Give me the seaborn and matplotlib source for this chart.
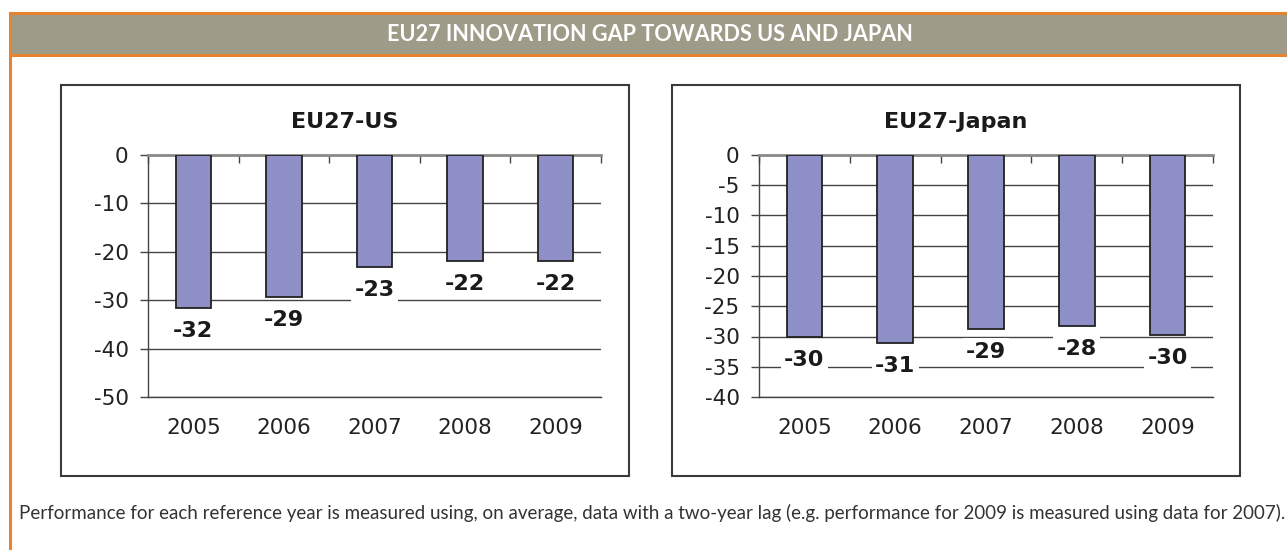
import matplotlib
matplotlib.use("Agg")
import matplotlib.pyplot as plt
from matplotlib.patches import Rectangle
from matplotlib.ticker import FixedLocator
import seaborn as sns

sns.set_style("white")
plt.rcParams["font.family"] = ["DejaVu Sans"]
plt.rcParams["axes.unicode_minus"] = False

# data
years = ["2005", "2006", "2007", "2008", "2009"]
us_gap = [-31.6, -29.4, -23.1, -21.9, -21.9]
japan_gap = [-30.0, -31.1, -28.7, -28.3, -29.7]

header = "EU27 INNOVATION GAP TOWARDS US AND JAPAN"
footnote = ("Performance for each reference year is measured using, on average, data with a "
            "two-year lag (e.g. performance for 2009 is measured using data for 2007).")

W, H = 1287, 550
bar_color = "#8D8FC6"
orange = "#E8822F"

fig = plt.figure(figsize=(W / 100, H / 100), dpi=100)


def px_rect(x0, y0, x1, y1, **kw):
    # rectangle given in pixel coords (top-left origin)
    r = Rectangle((x0 / W, 1 - y1 / H), (x1 - x0) / W, (y1 - y0) / H,
                  transform=fig.transFigure, **kw)
    fig.add_artist(r)


# header band and orange frame
px_rect(12, 15, W, 54, fc="#9E9B89", ec="none")
px_rect(9, 12, W, 15, fc=orange, ec="none")
px_rect(9, 54, W, 57, fc=orange, ec="none")
px_rect(9, 12, 12, H, fc=orange, ec="none")

# chart boxes
px_rect(61, 85, 629, 476, fill=False, ec="#3a3a3a", lw=1.5)
px_rect(672, 85, 1240, 476, fill=False, ec="#3a3a3a", lw=1.5)


def draw_chart(ax, values, ymin, step):
    sns.barplot(x=years, y=values, color=bar_color, saturation=1, width=0.39,
                edgecolor="#222222", linewidth=1.3, ax=ax, zorder=3)
    ax.set_xlim(-0.5, 4.5)
    ax.set_ylim(ymin, 0)
    ax.set_yticks(list(range(ymin, 1, step)))
    ax.yaxis.grid(True, color="#444444", linewidth=1)
    ax.set_axisbelow(True)
    ax.set_xlabel("")
    ax.set_ylabel("")
    for side in ["left", "bottom"]:
        ax.spines[side].set_visible(True)
        ax.spines[side].set_color("#444444")
        ax.spines[side].set_linewidth(1)
    ax.spines["right"].set_visible(False)
    ax.spines["top"].set_visible(True)
    ax.spines["top"].set_color("#8a8a8a")
    ax.spines["top"].set_linewidth(2)
    ax.tick_params(axis="y", which="major", left=True, length=6, width=1, color="#444444",
                   direction="out", labelsize=15.5, labelcolor="#222222", pad=8)
    ax.tick_params(axis="x", which="major", length=0, labelsize=15.5, labelcolor="#222222", pad=15)
    ax.xaxis.set_minor_locator(FixedLocator([i - 0.5 for i in range(6)]))
    ax.tick_params(axis="x", which="minor", top=True, bottom=False, direction="in",
                   length=6, width=1, color="#444444")
    for i, v in enumerate(values):
        ax.annotate(f"{v:.0f}", xy=(i, v), xytext=(0, -23), textcoords="offset pixels",
                    ha="center", va="center", fontsize=16, fontweight="bold", color="#1a1a1a",
                    bbox=dict(boxstyle="square,pad=0.15", fc="white", ec="none"), zorder=5)


ax1 = fig.add_axes([148 / W, 1 - 397 / H, 453 / W, 242 / H])
draw_chart(ax1, us_gap, -50, 10)
ax2 = fig.add_axes([759 / W, 1 - 397 / H, 454 / W, 242 / H])
draw_chart(ax2, japan_gap, -40, 5)

fig.text(345 / W, 1 - 122 / H, "EU27-US", ha="center", va="center",
         fontsize=16, fontweight="bold", color="#1a1a1a")
fig.text(956 / W, 1 - 122 / H, "EU27-Japan", ha="center", va="center",
         fontsize=16, fontweight="bold", color="#1a1a1a")

t_head = fig.text(650 / W, 1 - 34.5 / H, header, ha="center", va="center", color="white",
                  fontsize=15, fontweight="bold", family=["Lato", "DejaVu Sans"])
t_foot = fig.text(19 / W, 1 - 513 / H, footnote, ha="left", va="center", color="#333333",
                  fontsize=12, family=["Lato", "DejaVu Sans"])


# squeeze the texts to the widths seen in the reference
def fit_width(t, target):
    renderer = fig.canvas.get_renderer()
    w = t.get_window_extent(renderer).width
    t.set_fontsize(t.get_fontsize() * target / w)


fit_width(t_head, 525)
fit_width(t_foot, 1262)

fig.savefig("out.png", dpi=100)
